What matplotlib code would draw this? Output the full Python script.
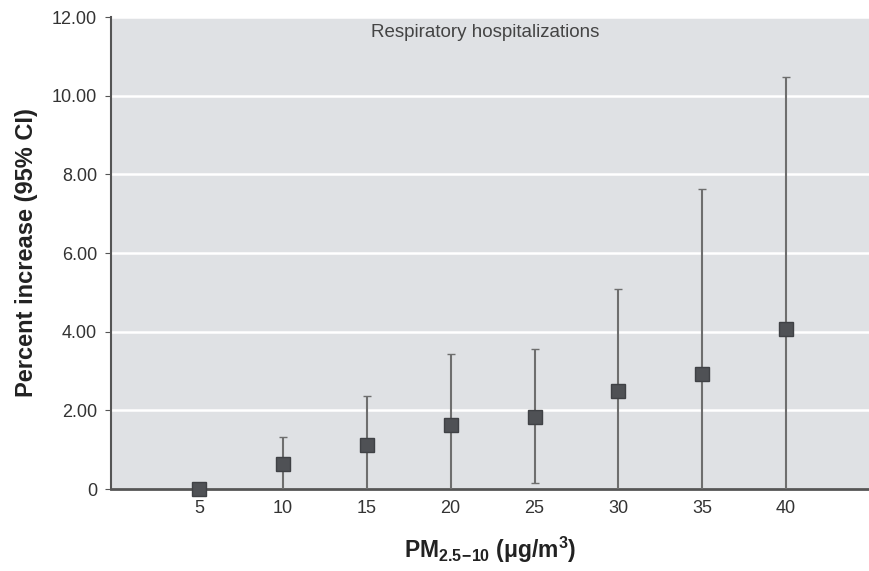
import matplotlib
matplotlib.use("Agg")
import matplotlib.pyplot as plt

plt.rcParams['font.family'] = ['Liberation Sans', 'DejaVu Sans']
plt.rcParams['mathtext.fontset'] = 'custom'
plt.rcParams['mathtext.rm'] = 'Liberation Sans'
plt.rcParams['mathtext.it'] = 'Liberation Sans:italic'
plt.rcParams['mathtext.bf'] = 'Liberation Sans:bold'

pm = [5, 10, 15, 20, 25, 30, 35, 40]
pct = [0.0, 0.64, 1.12, 1.63, 1.83, 2.49, 2.92, 4.07]
upper = [0.0, 1.32, 2.36, 3.43, 3.56, 5.08, 7.63, 10.47]
lower = [0.0, -0.05, -0.05, -0.05, 0.15, -0.05, -0.05, -0.05]
yticks = [0, 2, 4, 6, 8, 10, 12]
ytick_labels = ["0", "2.00", "4.00", "6.00", "8.00", "10.00", "12.00"]
title = "Respiratory hospitalizations"

fig = plt.figure(figsize=(8.7, 5.71), dpi=100)
ax = fig.add_axes([0.1276, 0.1436, 0.8724, 0.8266])
ax.set_facecolor("#dfe1e4")

err_lo = [p - l for p, l in zip(pct, lower)]
err_hi = [u - p for p, u in zip(pct, upper)]
ax.errorbar(pm, pct, yerr=[err_lo, err_hi], fmt='none', ecolor="#6e6e6e",
            elinewidth=1.5, capsize=3, capthick=1.0, zorder=3)
ax.plot(pm, pct, linestyle='none', marker='s', markersize=10,
        color="#4f5155", markeredgecolor="#3f4145", zorder=5, clip_on=False)

ax.set_xlim(-0.25, 45)
ax.set_ylim(0, 12)
ax.set_yticks(yticks)
ax.set_yticklabels(ytick_labels)
ax.set_xticks(pm)
ax.set_xticklabels([str(v) for v in pm])
ax.yaxis.grid(True, color="white", linewidth=1.8)
ax.set_axisbelow(True)

for s in ["top", "right"]:
    ax.spines[s].set_visible(False)
ax.spines["left"].set_color("#555555")
ax.spines["left"].set_linewidth(1.5)
ax.spines["bottom"].set_color("#555555")
ax.spines["bottom"].set_linewidth(2.0)
ax.tick_params(axis='y', length=4, color="#555555", labelsize=13, labelcolor="#333333", pad=6)
ax.tick_params(axis='x', length=0, labelsize=13, labelcolor="#333333", pad=8)

ax.text(0.493, 0.968, title, transform=ax.transAxes, ha='center', va='center',
        fontsize=13.5, color="#444444")

ax.set_ylabel("Percent increase (95% CI)", fontsize=17, fontweight='bold',
              color="#222222", labelpad=10)
ax.set_xlabel(r"PM$_{\mathbf{2.5\!-\!10}}$ ($\mathbf{\mu}$g/m$^{\mathbf{3}}$)", fontsize=16.5,
              fontweight='bold', color="#222222", labelpad=13)

fig.savefig("out.png", dpi=100)
